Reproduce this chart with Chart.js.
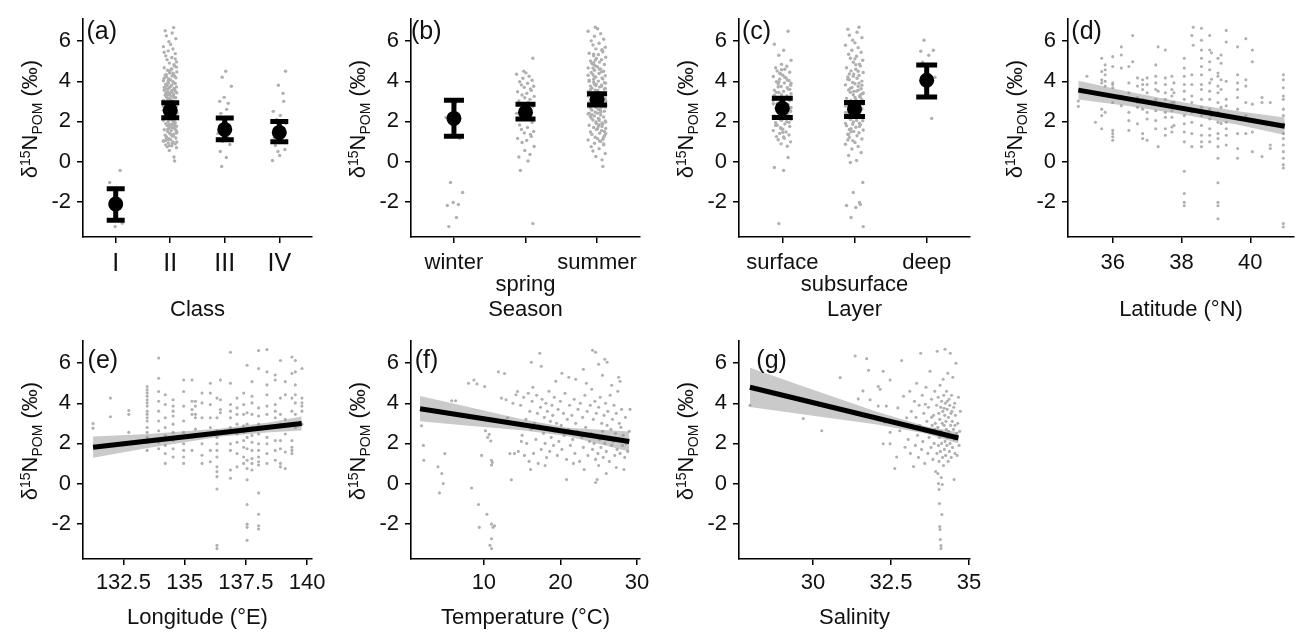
<!DOCTYPE html>
<html>
<head>
<meta charset="utf-8">
<script src="https://cdn.jsdelivr.net/npm/chart.js@4.4.1/dist/chart.umd.min.js"></script>
<style>
    html, body { margin: 0; padding: 0; background: #fff; }
    #fig { position: relative; width: 1298px; height: 635px; overflow: hidden; background: #fff; }
    #fig canvas { position: absolute; }
</style>
</head>
<body>
<div id="fig"></div>
<script>
// ---- shared axis values ----
const yRange = [-3.77, 7.1];
const yTicks = [-2, 0, 2, 4, 6];

// ---- (a) Class ----
const classLabels = ['I', 'II', 'III', 'IV'];
const classI = [-0.45, -1.05, -1.9, -2.4, -3.08, -3.25];
const classII = [6.68, 6.52, 6.41, 6.27, 6.13, 5.98, 5.84, 5.73, 5.61, 5.52, 5.38, 5.27, 5.19, 5.08, 4.97, 4.91,
    4.83, 4.76, 4.68, 4.61, 4.55, 4.47, 4.42, 4.36, 4.31, 4.27, 4.22, 4.18, 4.12, 4.07, 4.03, 3.98, 3.94, 3.89,
    3.85, 3.81, 3.77, 3.72, 3.68, 3.64, 3.59, 3.56, 3.51, 3.47, 3.43, 3.38, 3.34, 3.31, 3.26, 3.22, 3.18, 3.13,
    3.09, 3.04, 3.01, 2.96, 2.92, 2.88, 2.83, 2.79, 2.75, 2.71, 2.66, 2.62, 2.58, 2.53, 2.49, 2.45, 2.41, 2.36,
    2.32, 2.28, 2.23, 2.19, 2.15, 2.11, 2.06, 2.02, 1.98, 1.93, 1.89, 1.85, 1.8, 1.76, 1.72, 1.67, 1.63, 1.58,
    1.54, 1.49, 1.45, 1.4, 1.36, 1.31, 1.27, 1.22, 1.17, 1.13, 1.08, 1.03, 0.98, 0.93, 0.88, 0.83, 0.78, 0.73,
    0.69, 0.55, 0.22, 0.02, 3.7, 2.9, 1.6, 2.4, 3.3, 1.95, 2.7, 3.55, 1.2, 2.15, 4.1, 3.05, 2.55, 1.75, 3.9,
    2.3, 1.05, 3.45, 2.85, 1.5, 3.15, 2.05, 4.25, 2.6, 1.35, 3.6, 2.95, 1.85, 3.25, 2.45, 0.9, 3.8, 2.2, 1.65,
    3.0, 2.75, 4.4, 1.1, 3.5, 2.35, 4.62, 3.35, 1.42, 2.68, 3.92, 1.82, 4.15, 2.52, 3.12, 0.97, 4.5, 1.27,
    3.66, 2.08, 4.33, 1.57, 2.98, 3.74, 1.01, 2.26, 4.02, 5.12, 3.42, 1.69, 2.81, 4.71, 0.79, 3.19, 2.39, 5.45];
const classIII = [4.5, 4.2, 3.75, 3.2, 2.9, 3.0, 2.6, 2.4, 2.2, 1.9, 1.6, 1.4, 1.2, 1.0, 0.85, 0.5, 0.2, -0.25];
const classIV = [4.5, 3.8, 3.4, 3.0, 2.5, 2.3, 2.1, 1.9, 1.7, 1.4, 1.2, 1.0, 0.8, 0.6, 0.5, 0.3, 0.05];
const classMean = [-2.12, 2.55, 1.6, 1.45];
const classLow = [-2.94, 2.18, 1.08, 0.98];
const classHigh = [-1.36, 2.93, 2.17, 2.0];

// ---- (b) Season ----
const seasonLabels = ['winter', 'spring', 'summer'];
const winter = [1.15, 2.2, 2.9, -1.05, -1.55, -2.05, -2.15, -2.2, -2.8, -3.25];
const spring = [5.15, 4.5, 4.42, 4.35, 4.25, 4.15, 4.05, 3.98, 3.9, 3.82, 3.75, 3.7, 3.62, 3.55, 3.48, 3.4, 3.32,
    3.25, 3.18, 3.1, 3.02, 2.95, 2.85, 2.75, 2.62, 2.5, 2.4, 2.28, 2.1, 1.95, 1.82, 1.7, 1.6, 1.5, 1.42, 1.35,
    1.25, 1.15, 1.05, 0.95, 0.75, 0.55, 0.35, 0.22, 0.02, -0.45, -3.1];
const summer = [6.7, 6.62, 6.5, 6.38, 6.25, 6.1, 6.02, 5.9, 5.81, 5.7, 5.62, 5.55, 5.47, 5.4, 5.33, 5.27, 5.2,
    5.14, 5.08, 5.02, 4.96, 4.9, 4.84, 4.78, 4.72, 4.67, 4.61, 4.55, 4.5, 4.44, 4.39, 4.33, 4.28, 4.22, 4.17,
    4.12, 4.06, 4.01, 3.96, 3.91, 3.86, 3.81, 3.76, 3.71, 3.66, 3.61, 3.56, 3.51, 3.47, 3.42, 3.37, 3.32, 3.28,
    3.23, 3.18, 3.13, 3.09, 3.04, 2.99, 2.94, 2.9, 2.85, 2.8, 2.75, 2.7, 2.66, 2.61, 2.56, 2.51, 2.46, 2.41,
    2.37, 2.32, 2.27, 2.22, 2.17, 2.12, 2.07, 2.02, 1.97, 1.92, 1.87, 1.81, 1.76, 1.7, 1.65, 1.59, 1.53, 1.47,
    1.41, 1.35, 1.28, 1.21, 1.14, 1.07, 0.99, 0.91, 0.83, 0.74, 0.64, 0.52, 0.4, 0.25, 0.08, -0.25, 3.4, 2.6,
    4.1, 3.0, 1.9, 3.75, 2.25, 4.6, 3.2, 1.5, 2.8, 3.55, 4.3, 2.45, 3.85, 1.2, 3.1, 2.05, 4.85, 3.65, 2.7,
    1.75, 3.35, 4.0, 2.15, 5.35, 1.38, 2.88, 4.47, 3.58, 1.02, 2.34, 3.93, 5.06, 1.63, 3.27, 2.52, 4.21, 0.87,
    3.02, 1.84, 4.66, 2.72, 3.79, 5.58, 1.11, 2.41, 3.46, 4.93, 1.97];
const seasonMean = [2.15, 2.45, 3.1];
const seasonLow = [1.26, 2.12, 2.82];
const seasonHigh = [3.05, 2.86, 3.38];

// ---- (c) Layer ----
const layerLabels = ['surface', 'subsurface', 'deep'];
const surface = [6.5, 5.85, 5.55, 5.3, 5.05, 4.85, 4.75, 4.68, 4.6, 4.52, 4.45, 4.38, 4.3, 4.24, 4.17, 4.1, 4.04,
    3.98, 3.92, 3.86, 3.8, 3.74, 3.68, 3.62, 3.56, 3.5, 3.44, 3.38, 3.33, 3.27, 3.21, 3.16, 3.1, 3.04, 2.99, 2.93,
    2.88, 2.82, 2.77, 2.71, 2.66, 2.6, 2.55, 2.49, 2.44, 2.38, 2.33, 2.27, 2.22, 2.16, 2.1, 2.05, 1.99, 1.93,
    1.87, 1.81, 1.75, 1.68, 1.61, 1.54, 1.47, 1.4, 1.32, 1.24, 1.16, 1.08, 0.98, 0.88, 0.76, 0.2, -0.3, -0.45,
    -3.1, 3.9, 2.4, 3.2, 1.8, 4.2, 2.9, 3.6, 2.1, 1.45, 3.05, 2.6, 4.4, 1.95, 3.45, 2.25, 3.72, 2.53, 1.63,
    4.06, 2.84, 3.31, 1.22, 3.97, 2.69, 4.58];
const subsurface = [6.7, 6.6, 6.45, 6.3, 6.18, 6.05, 5.92, 5.8, 5.68, 5.55, 5.45, 5.35, 5.25, 5.15, 5.05, 4.95,
    4.86, 4.77, 4.68, 4.6, 4.52, 4.44, 4.36, 4.29, 4.22, 4.15, 4.08, 4.01, 3.94, 3.88, 3.82, 3.75, 3.69, 3.63,
    3.57, 3.51, 3.45, 3.39, 3.33, 3.27, 3.21, 3.15, 3.1, 3.04, 2.98, 2.92, 2.86, 2.8, 2.75, 2.69, 2.63, 2.57,
    2.51, 2.45, 2.39, 2.33, 2.27, 2.21, 2.15, 2.09, 2.03, 1.97, 1.91, 1.84, 1.78, 1.71, 1.64, 1.57, 1.5, 1.43,
    1.36, 1.28, 1.2, 1.12, 1.04, 0.95, 0.86, 0.75, 0.62, 0.45, 0.3, 0.05, -0.05, -1.05, -1.55, -2.05, -2.15,
    -2.2, -2.3, -2.8, -3.25, 3.5, 2.2, 4.1, 2.95, 1.6, 3.8, 2.5, 3.2, 1.9, 4.5, 2.7, 3.35, 1.35, 2.05, 3.65,
    2.85, 4.25, 1.75, 3.0, 2.4, 4.83, 1.48, 3.42, 2.62, 3.91, 1.07, 2.34, 4.37, 3.08, 1.86, 5.12, 2.77, 3.56];
const deep = [6.05, 5.55, 5.5, 5.3, 4.95, 4.2, 3.6, 2.15];
const layerMean = [2.65, 2.61, 4.05];
const layerLow = [2.2, 2.25, 3.22];
const layerHigh = [3.15, 2.94, 4.82];

// ---- (d) Latitude: stations and the values measured at each ----
const latStations = [35.0, 35.25, 35.5, 35.68, 35.78, 36.0, 36.25, 36.47, 36.58, 36.72, 36.87, 37.0, 37.25,
    37.32, 37.53, 37.72, 37.78, 38.08, 38.3, 38.34, 38.58, 38.82, 38.87, 39.06, 39.15, 39.3, 39.63, 39.87,
    40.06, 40.34, 40.58, 40.96];
const latValues = [
    [3.02, 2.75], [4.25], [1.96], [5.15, 4.49, 4.08, 3.92, 2.61, 2.29, 1.63], [4.82, 4.58, 4.33, 4.0, 3.76, 2.45],
    [5.23, 4.74, 3.92, 3.84, 3.68, 2.94, 1.55, 1.39, 1.23, 1.06], [5.72, 5.31, 4.66, 3.27, 2.78],
    [4.74, 3.92, 3.43, 2.45, 2.04, 1.55], [6.29, 4.98], [4.17, 3.76, 3.19, 2.94, 1.88, 2.7],
    [4.08, 3.84, 3.59, 3.1, 2.61, 1.39, 1.14], [4.17, 3.84, 3.43, 2.94, 2.45, 2.12, 1.06],
    [4.82, 4.25, 3.92, 3.59, 3.1, 2.53, 2.04, 1.63], [5.72, 3.51, 0.74],
    [5.56, 4.17, 3.84, 3.43, 3.1, 2.45, 2.21, 1.63, 1.31], [4.25, 3.59, 3.27, 2.94, 2.53, 2.21, 1.72, 1.47],
    [3.92, 3.43, 2.94, 1.8],
    [5.15, 4.66, 4.25, 3.84, 3.51, 3.1, 2.7, 2.29, 1.88, 1.47, 0.98, -0.49, -1.6, -2.04, -2.21],
    [6.29, 4.33, 3.84, 3.27, 2.94, 2.45, 1.96, 1.39, 0.74], [6.7, 5.8],
    [6.65, 6.05, 5.56, 5.15, 4.74, 4.33, 3.84, 3.59, 3.1, 2.7, 2.29, 1.8, 1.31, 0.98, 0.74],
    [6.29, 5.56, 4.98, 4.58, 3.92, 3.51, 3.1, 2.61, 2.12, 1.63, 1.31, 0.98], [5.42, 4.1, 2.3],
    [5.15, 4.41, 4.25, 3.76, 3.43, 2.94, 2.45, 1.96, 1.39, 1.14, 0.74, 0.16, -1.06, -2.04, -2.21, -2.86],
    [5.31, 4.9, 4.08, 3.59, 2.7, 1.9], [6.54, 5.96, 4.0, 3.1, 2.78, 2.29, 1.96, 1.63, 1.31, 0.82],
    [5.72, 4.33, 3.92, 3.59, 3.19, 2.61, 2.21, 1.39, 0.65, 0.16], [6.13, 4.08, 3.76, 2.94, 2.29, 1.39],
    [5.56, 4.98, 2.86, 1.47, 0.49], [3.19, 2.94, 0.25], [2.94, 0.82, 0.65],
    [4.33, 4.08, 3.68, 3.27, 3.1, 2.61, 2.29, 1.88, 1.39, 1.14, 0.82, 0.49, 0.16, -0.16, -0.33, -3.1, -3.27]
];
const latFitX = [35.0, 41.0];
const latFitY = [3.56, 1.76];
const latBandX = [35.0, 36.5, 38.2, 39.7, 41.0];
const latBandLow = [3.09, 2.75, 2.3, 1.81, 1.32];
const latBandHigh = [4.03, 3.47, 2.9, 2.49, 2.2];

// ---- (e) Longitude ----
const lonStations = [131.26, 131.97, 132.72, 133.47, 133.94, 134.21, 134.53, 134.96, 135.3, 135.44, 135.71,
    136.05, 136.32, 136.46, 136.87, 137.14, 137.41, 137.55, 137.75, 138.02, 138.36, 138.7, 138.91, 139.11,
    139.38, 139.52, 139.79];
const lonValues = [
    [2.99, 2.76], [4.26, 3.33], [3.64, 3.45, 2.55],
    [4.84, 4.67, 4.51, 4.35, 4.18, 4.02, 3.86, 3.61, 3.45, 3.28, 3.12, 2.79, 2.55, 2.3, 2.06, 1.65],
    [6.26, 5.25, 4.59, 4.1, 3.61, 3.12, 2.63, 2.06, 1.73], [4.43, 3.94, 3.28, 2.79, 2.39, 1.9, 1.49, 1.0],
    [4.18, 3.86, 3.61, 3.37, 2.96, 2.55, 2.14, 1.73, 1.32], [5.16, 4.59, 3.86, 3.12, 2.55, 1.98, 1.65, 1.32, 1.0],
    [5.16, 4.1, 3.69, 3.45, 2.3, 1.65], [4.1, 3.86, 3.45, 3.28, 2.71], [4.51, 4.02, 3.28, 1.98, 1.41, 1.0],
    [5.0, 4.51, 3.94, 3.28, 2.79, 1.65, 1.08],
    [4.26, 3.28, 2.63, 2.3, 1.98, 1.65, 1.32, 0.83, 0.59, 0.34, -0.28, -3.09, -3.25], [5.16, 4.18, 3.69, 3.53],
    [6.55, 5.0, 3.94, 3.61, 3.28, 2.79, 1.98, 1.65, 0.67, 0.26], [4.26, 3.77, 3.45, 2.96, 2.47, 2.06, 1.49, 0.83],
    [4.51, 3.94, 3.45, 2.88, 2.55, 2.14, 1.81, 1.32, 1.0],
    [5.9, 3.53, 2.96, 2.3, 1.73, 1.16, 0.75, 0.18, -1.05, -2.03, -2.19, -2.84],
    [5.08, 4.35, 4.02, 3.45, 2.79, 2.39, 2.06, 1.65, 1.24, 1.0, 0.67],
    [6.63, 5.74, 3.77, 3.37, 2.96, 2.47, 1.98, 1.65, 1.32, 1.08, 0.92, -0.47, -1.54, -2.11, -2.27],
    [6.68, 5.57, 4.92, 4.43, 3.86, 3.45, 2.79, 2.3, 1.98, 1.49, 1.0], [5.41, 5.16, 3.94, 3.61, 3.28, 2.79, 2.14, 1.65, 1.16],
    [6.14, 4.26, 3.45, 2.96, 2.14, 1.73, 1.0, 0.83], [5.08, 4.43, 3.2, 2.47, 1.57, 0.75],
    [6.31, 5.49, 4.26, 3.61, 2.96, 2.14, 1.81, 1.65, 1.49], [6.14, 5.57, 4.92, 4.43, 4.02, 3.45, 2.79],
    [5.74, 4.26, 4.02, 3.86, 3.61, 2.96]
];
const lonFitX = [131.26, 139.78];
const lonFitY = [1.81, 2.99];
const lonBandX = [131.26, 133.5, 136.5, 138.5, 139.78];
const lonBandLow = [1.28, 1.77, 2.34, 2.56, 2.64];
const lonBandHigh = [2.34, 2.47, 2.74, 3.06, 3.34];

// ---- (f) Temperature: [°C, d15N] ----
const tempPoints = [
    [1.85, 2.88], [2.1, 1.9], [2.15, 1.16], [4.0, 0.83], [4.2, -0.47], [4.5, 0.5], [4.7, 0.0], [4.9, 1.49],
    [5.8, 4.13], [6.3, 4.13], [8.0, 5.0], [8.7, 5.16], [9.1, 4.97], [8.4, -0.23], [9.3, -1.05], [9.4, -2.19],
    [9.7, 1.4], [10.1, 4.84], [10.2, 2.63], [10.5, 2.3], [10.7, 2.45], [10.9, 2.12], [11.0, 1.16], [11.0, 0.92],
    [11.1, 1.05], [10.4, -1.54], [11.0, -2.03], [11.2, -2.19], [11.4, -2.11], [11.0, -2.76], [10.8, -3.09],
    [11.0, -3.25], [11.9, 5.57], [12.3, 4.26], [12.7, 5.49], [12.9, 4.18], [13.1, 3.28], [13.4, 1.49],
    [13.6, 0.18], [13.8, 4.0], [14.0, 1.49], [14.2, 4.43], [14.4, 4.59], [14.9, 2.1],
    [14.5, 1.6], [14.8, 3.9], [15.0, 2.4], [15.2, 4.3], [15.3, 1.4], [15.5, 3.2], [15.6, 2.0], [15.8, 4.5],
    [15.9, 1.1], [16.0, 3.6], [16.2, 2.7], [16.3, 4.1], [16.5, 1.5], [16.6, 3.0], [16.8, 2.2], [16.9, 4.4],
    [17.0, 3.5], [17.1, 1.0], [17.2, 2.9], [17.4, 3.8], [17.5, 1.7], [17.6, 4.2], [17.8, 2.5], [17.9, 3.3],
    [18.0, 2.0], [18.1, 4.0], [18.2, 1.3], [18.3, 3.6], [18.4, 2.8], [18.5, 4.6], [18.6, 1.6], [18.7, 3.1],
    [18.8, 2.3], [18.9, 3.9], [19.0, 3.4], [19.1, 1.9], [19.2, 4.3], [19.3, 2.6], [19.5, 3.0], [19.6, 1.4],
    [19.7, 3.7], [19.8, 2.1], [20.0, 4.1], [20.1, 2.9], [20.2, 1.7], [20.4, 3.5], [20.5, 2.4], [20.6, 4.5],
    [20.8, 1.2], [20.9, 3.2], [21.0, 2.7], [21.2, 3.9], [21.3, 1.9], [21.5, 3.4], [21.6, 2.2], [21.8, 4.2],
    [21.9, 1.5], [22.0, 3.0], [22.2, 2.6], [22.3, 3.7], [22.5, 1.1], [22.6, 4.0], [22.8, 2.3], [22.9, 3.3],
    [23.0, 1.8], [23.2, 4.4], [23.3, 2.8], [23.5, 3.6], [23.6, 1.4], [23.8, 2.1], [23.9, 3.9], [24.0, 2.5],
    [24.1, 4.7], [24.2, 1.7], [24.3, 3.2], [24.4, 2.0], [24.5, 4.1], [24.6, 1.2], [24.7, 3.5], [24.8, 2.4],
    [24.9, 1.5], [25.0, 3.8], [25.1, 2.2], [25.2, 4.3], [25.3, 1.8], [25.4, 3.0], [25.5, 2.6], [25.6, 1.3],
    [25.7, 3.4], [25.8, 2.0], [25.9, 4.0], [26.0, 1.6], [26.1, 2.9], [26.2, 3.6], [26.3, 2.3], [26.4, 1.1],
    [26.5, 4.4], [26.6, 2.7], [26.7, 1.9], [26.8, 3.2], [26.9, 2.1], [27.0, 3.9], [27.1, 1.4], [27.2, 2.5],
    [27.3, 3.5], [27.4, 1.7], [27.5, 4.6], [27.6, 2.2], [27.7, 3.0], [27.8, 1.5], [27.9, 2.8], [28.0, 3.7],
    [28.1, 1.9], [28.2, 2.4], [28.4, 1.3], [28.5, 3.3], [28.6, 2.0], [28.8, 1.6], [29.0, 2.6], [16.4, 4.8],
    [19.4, 5.1], [21.1, 5.3], [23.4, 5.0], [25.5, 5.4], [26.7, 4.9], [18.0, 0.9], [21.7, 1.0], [23.1, 0.7],
    [25.0, 0.9], [26.0, 0.5], [27.3, 0.8], [24.6, 0.05], [24.8, 0.2], [20.8, 0.2], [16.1, 0.7], [28.3, 0.7],
    [17.3, 6.5], [16.2, 6.05], [17.5, 5.85], [20.2, 5.5], [22.0, 5.2], [23.0, 5.7], [24.2, 6.65], [24.6, 6.55],
    [25.0, 5.95], [25.8, 6.2], [26.1, 6.05], [27.6, 5.3], [27.8, 5.1], [29.1, 3.7]
];
const tempFitX = [1.66, 29.0];
const tempFitY = [3.73, 2.09];
const tempBandX = [1.66, 8.0, 15.0, 21.0, 29.0];
const tempBandLow = [3.1, 2.88, 2.66, 2.36, 1.59];
const tempBandHigh = [4.36, 3.82, 3.2, 2.78, 2.59];

// ---- (g) Salinity: [psu, d15N] ----
const salPoints = [
    [27.98, 3.9], [29.69, 3.24], [30.28, 2.63], [30.87, 5.28], [31.35, 6.36], [31.45, 4.22], [31.72, 6.23],
    [31.78, 5.65], [31.6, 4.62], [31.83, 4.18], [32.09, 4.84], [32.15, 4.7], [32.09, 3.86], [32.25, 5.6],
    [32.25, 1.98], [32.3, 3.05], [32.35, 3.86], [32.47, 5.16], [32.47, 1.98], [32.47, 2.55], [32.62, 0.75],
    [32.68, 1.32], [32.72, 3.77], [32.78, 2.63], [32.84, 6.14], [32.9, 4.35], [32.95, 1.81], [33.0, 3.28],
    [33.05, 2.2], [33.1, 4.6], [33.12, 1.5], [33.15, 3.6], [33.2, 2.8], [33.22, 0.85], [33.25, 4.1], [33.28, 1.9],
    [33.3, 3.3], [33.32, 5.0], [33.35, 2.4], [33.38, 1.3], [33.4, 3.9], [33.42, 2.9], [33.45, 6.5], [33.48, 1.7],
    [33.5, 4.4], [33.52, 2.1], [33.55, 3.5], [33.58, 1.0], [33.6, 2.6], [33.62, 4.8], [33.65, 3.1], [33.68, 1.5],
    [33.7, 3.8], [33.72, 2.3], [33.75, 5.6], [33.78, 1.8], [33.8, 4.2], [33.82, 2.9], [33.84, 1.2], [33.86, 3.4],
    [33.88, 2.0], [33.9, 4.6], [33.92, 3.0], [33.93, 0.6], [33.94, 2.5], [33.96, 3.9], [33.97, 1.5], [33.98, 6.6],
    [34.0, 2.8], [34.01, 4.3], [34.02, 1.9], [34.03, 3.5], [34.04, 1.1], [34.05, -1.0], [34.05, 2.3],
    [34.06, -2.15], [34.06, 3.2], [34.07, 4.9], [34.07, -2.3], [34.08, 1.6], [34.08, -2.8], [34.09, 3.8],
    [34.1, -3.1], [34.1, 2.6], [34.1, -3.25], [34.11, 0.3], [34.12, 4.1], [34.12, 2.0], [34.13, -1.55],
    [34.14, 3.0], [34.14, -0.05], [34.15, 1.3], [34.16, 3.6], [34.17, 5.2], [34.17, 2.4], [34.18, 0.9],
    [34.19, 4.4], [34.2, 2.9], [34.21, 1.7], [34.22, 3.4], [34.23, 6.7], [34.23, 2.1], [34.24, 4.0], [34.25, 1.4],
    [34.26, 3.1], [34.27, 2.7], [34.28, 4.6], [34.29, 1.9], [34.3, 3.7], [34.31, 2.3], [34.32, 5.5], [34.33, 1.1],
    [34.34, 3.3], [34.35, 2.6], [34.36, 4.2], [34.37, 1.6], [34.38, 3.9], [34.39, 2.0], [34.4, 6.5], [34.41, 2.9],
    [34.42, 3.5], [34.43, 1.3], [34.44, 4.4], [34.45, 2.4], [34.46, 3.1], [34.47, 1.8], [34.48, 5.3], [34.5, 2.7],
    [34.51, 3.8], [34.52, 0.2], [34.53, 2.2], [34.54, 4.0], [34.55, 1.5], [34.56, 3.4], [34.58, 6.0], [34.6, 2.5],
    [34.62, 1.4], [34.64, 3.0], [34.66, 4.3], [34.68, 1.9], [34.7, 2.6], [34.72, 3.6], [34.0, 0.5], [34.02, 0.0],
    [34.04, -0.3], [33.6, 3.95], [33.8, 3.3], [34.3, 4.1], [34.45, 3.6], [34.2, 3.75], [33.9, 2.7], [34.55, 2.9]
];
const salFitX = [27.98, 34.66];
const salFitY = [4.8, 2.27];
const salBandX = [27.98, 30.0, 32.0, 33.6, 34.66];
const salBandLow = [3.82, 3.38, 2.95, 2.49, 1.99];
const salBandHigh = [5.78, 4.68, 3.61, 2.85, 2.55];

// fixed horizontal spread pattern for the categorical panels
const JIT = [0.62, -0.85, 0.14, -0.37, 0.93, -0.08, 0.48, -0.71, 0.27, -0.55, 0.79, -0.19, 0.05, -0.96,
    0.39, -0.28, 0.71, -0.63, 0.22, -0.44, 0.88, -0.13, 0.53];

const colors = {
    ink: '#000',
    text: '#111',
    point: '#b0b0b0',
    band: 'rgba(150,150,150,0.5)'
};
const FONT = '"Liberation Sans", Arial, Helvetica, sans-serif';
Chart.defaults.font.family = FONT;
Chart.defaults.color = colors.text;

// page geometry (pixels)
const ROWS = [
    { top: 0, bottom: 322, plotTop: 15, plotBottom: 237, tickPad: 9, titlePad: 1, tagDy: 19.5 },
    { top: 322, bottom: 635, plotTop: 337, plotBottom: 559, tickPad: 7, titlePad: 6, tagDy: 27 }
];
const COLS = [
    { axis: 83, right: 312 },
    { axis: 411, right: 640 },
    { axis: 739, right: 970 },
    { axis: 1068, right: 1298 }
];

function jitter(groups, spread) {
    const pts = [];
    let k = 0;
    groups.forEach((vals, i) => vals.forEach(v => {
        pts.push({ x: i + 1 + JIT[k % JIT.length] * spread, y: v });
        k++;
    }));
    return pts;
}

function columns(xs, vals) {
    const pts = [];
    xs.forEach((x, i) => vals[i].forEach(v => pts.push({ x: x, y: v })));
    return pts;
}

function pairs(list) {
    return list.map(p => ({ x: p[0], y: p[1] }));
}

function pointSet(data, r) {
    return {
        type: 'scatter', data: data, order: 5,
        pointRadius: r || 1.55, pointBorderWidth: 0, pointBackgroundColor: colors.point
    };
}

function errorSets(means, lows, highs, capHalf) {
    const line = data => ({
        type: 'line', data: data, order: 1, fill: false,
        borderColor: colors.ink, borderWidth: 5, borderCapStyle: 'butt', pointRadius: 0
    });
    const sets = [];
    means.forEach((m, i) => {
        const x = i + 1;
        sets.push(line([{ x: x, y: lows[i] }, { x: x, y: highs[i] }]));
        sets.push(line([{ x: x - capHalf, y: lows[i] }, { x: x + capHalf, y: lows[i] }]));
        sets.push(line([{ x: x - capHalf, y: highs[i] }, { x: x + capHalf, y: highs[i] }]));
    });
    sets.push({
        type: 'scatter', order: 0,
        data: means.map((m, i) => ({ x: i + 1, y: m })),
        pointRadius: 7.5, pointBorderWidth: 0, pointBackgroundColor: colors.ink
    });
    return sets;
}

function fitSets(bandX, low, high, fitX, fitY) {
    const clear = 'rgba(0,0,0,0)';
    return [
        { type: 'line', order: 2, data: bandX.map((x, i) => ({ x: x, y: low[i] })),
          borderColor: clear, borderWidth: 1, pointRadius: 0, fill: false },
        { type: 'line', order: 2, data: bandX.map((x, i) => ({ x: x, y: high[i] })),
          borderColor: clear, borderWidth: 1, pointRadius: 0, fill: '-1', backgroundColor: colors.band },
        { type: 'line', order: 1, data: fitX.map((x, i) => ({ x: x, y: fitY[i] })),
          borderColor: colors.ink, borderWidth: 5, pointRadius: 0, fill: false }
    ];
}

// y title with superscript 15 and subscript POM
const yTitlePlugin = {
    id: 'yTitle',
    afterDraw(chart) {
        const { ctx, chartArea } = chart;
        const parts = [['δ', 22, 0], ['15', 14, -7.5], ['N', 22, 0], ['POM', 14, 5], [' (‰)', 22, 0]];
        ctx.save();
        let total = 0;
        const widths = parts.map(p => {
            ctx.font = p[1] + 'px ' + FONT;
            const w = ctx.measureText(p[0]).width;
            total += w;
            return w;
        });
        ctx.translate(chartArea.left - 46, (chartArea.top + chartArea.bottom) / 2 - 9);
        ctx.rotate(-Math.PI / 2);
        ctx.fillStyle = colors.text;
        ctx.textBaseline = 'alphabetic';
        ctx.textAlign = 'left';
        let x = -total / 2;
        parts.forEach((p, i) => {
            ctx.font = p[1] + 'px ' + FONT;
            ctx.fillText(p[0], x, p[2]);
            x += widths[i];
        });
        ctx.restore();
    }
};

const panelTagPlugin = {
    id: 'panelTag',
    afterDraw(chart, args, opts) {
        const { ctx, chartArea } = chart;
        ctx.save();
        ctx.font = '25px ' + FONT;
        ctx.fillStyle = colors.text;
        ctx.textBaseline = 'alphabetic';
        ctx.textAlign = 'left';
        ctx.fillText(opts.text, chartArea.left + opts.dx, chartArea.top + opts.dy);
        ctx.restore();
    }
};

const fig = document.getElementById('fig');

function makePanel(cfg) {
    const row = ROWS[cfg.row], col = COLS[cfg.col];
    const left = col.axis - 82;
    const pr = Math.min(25, 1298 - col.right);
    const width = col.right + pr - left;
    const height = row.bottom - row.top;
    const canvas = document.createElement('canvas');
    canvas.width = width;
    canvas.height = height;
    canvas.style.left = left + 'px';
    canvas.style.top = row.top + 'px';
    canvas.style.width = width + 'px';
    canvas.style.height = height + 'px';
    fig.appendChild(canvas);

    const grid = { drawOnChartArea: false, drawTicks: true, tickLength: 6, color: colors.ink, lineWidth: 1.5 };
    const border = { display: true, color: colors.ink, width: 1.6 };

    return new Chart(canvas, {
        type: 'scatter',
        data: { datasets: cfg.datasets },
        options: {
            responsive: false,
            animation: false,
            devicePixelRatio: 1,
            events: [],
            layout: { padding: { top: row.plotTop - row.top, right: pr, left: 0, bottom: 0 } },
            plugins: {
                legend: { display: false },
                tooltip: { enabled: false },
                panelTag: { text: cfg.tag, dx: cfg.tagDx, dy: row.tagDy }
            },
            scales: {
                x: {
                    type: 'linear', position: 'bottom', bounds: 'data',
                    min: cfg.xRange[0], max: cfg.xRange[1],
                    afterBuildTicks: s => { s.ticks = cfg.xTicks.map(v => ({ value: v })); },
                    afterFit: s => { s.height = row.bottom - row.plotBottom; },
                    ticks: {
                        callback: cfg.xLabel || (v => String(v)),
                        font: { size: cfg.xTickSize || 22, lineHeight: 1 },
                        padding: row.tickPad, maxRotation: 0, minRotation: 0, autoSkip: false, color: colors.text
                    },
                    grid: grid,
                    border: border,
                    title: {
                        display: true, text: cfg.xTitle, color: colors.text,
                        font: { size: 22, lineHeight: 1 }, padding: { top: 0, bottom: row.titlePad }
                    }
                },
                y: {
                    type: 'linear', bounds: 'data',
                    min: yRange[0], max: yRange[1],
                    afterBuildTicks: s => { s.ticks = yTicks.map(v => ({ value: v })); },
                    afterFit: s => { s.width = 82; },
                    ticks: { callback: v => String(v), font: { size: 22 }, padding: 6, color: colors.text },
                    grid: grid,
                    border: border
                }
            }
        },
        plugins: [yTitlePlugin, panelTagPlugin]
    });
}

const dodge = labels => (v, i) => {
    const lab = labels[Math.round(v) - 1];
    return i % 2 ? ['', lab] : lab;
};

makePanel({
    row: 0, col: 0, tag: '(a)', tagDx: 3.5, xTitle: 'Class', xTickSize: 25,
    xRange: [0.4, 4.6], xTicks: [1, 2, 3, 4],
    xLabel: v => classLabels[Math.round(v) - 1],
    datasets: [pointSet(jitter([classI, classII, classIII, classIV], 0.13), 1.7),
        ...errorSets(classMean, classLow, classHigh, 0.165)]
});

makePanel({
    row: 0, col: 1, tag: '(b)', tagDx: 0, xTitle: 'Season',
    xRange: [0.4, 3.6], xTicks: [1, 2, 3],
    xLabel: dodge(seasonLabels),
    datasets: [pointSet(jitter([winter, spring, summer], 0.13), 1.7),
        ...errorSets(seasonMean, seasonLow, seasonHigh, 0.14)]
});

makePanel({
    row: 0, col: 2, tag: '(c)', tagDx: 3, xTitle: 'Layer',
    xRange: [0.4, 3.6], xTicks: [1, 2, 3],
    xLabel: dodge(layerLabels),
    datasets: [pointSet(jitter([surface, subsurface, deep], 0.13), 1.7),
        ...errorSets(layerMean, layerLow, layerHigh, 0.145)]
});

makePanel({
    row: 0, col: 3, tag: '(d)', tagDx: 3.3, xTitle: 'Latitude (°N)',
    xRange: [34.7, 41.27], xTicks: [36, 38, 40],
    datasets: [pointSet(columns(latStations, latValues)),
        ...fitSets(latBandX, latBandLow, latBandHigh, latFitX, latFitY)]
});

makePanel({
    row: 1, col: 0, tag: '(e)', tagDx: 4.6, xTitle: 'Longitude (°E)',
    xRange: [130.85, 140.2], xTicks: [132.5, 135, 137.5, 140],
    datasets: [pointSet(columns(lonStations, lonValues)),
        ...fitSets(lonBandX, lonBandLow, lonBandHigh, lonFitX, lonFitY)]
});

makePanel({
    row: 1, col: 1, tag: '(f)', tagDx: 3.7, xTitle: 'Temperature (°C)',
    xRange: [0.48, 30.4], xTicks: [10, 20, 30],
    datasets: [pointSet(pairs(tempPoints)),
        ...fitSets(tempBandX, tempBandLow, tempBandHigh, tempFitX, tempFitY)]
});

makePanel({
    row: 1, col: 2, tag: '(g)', tagDx: 17.3, xTitle: 'Salinity',
    xRange: [27.63, 35.03], xTicks: [30, 32.5, 35],
    datasets: [pointSet(pairs(salPoints)),
        ...fitSets(salBandX, salBandLow, salBandHigh, salFitX, salFitY)]
});
</script>
</body>
</html>
